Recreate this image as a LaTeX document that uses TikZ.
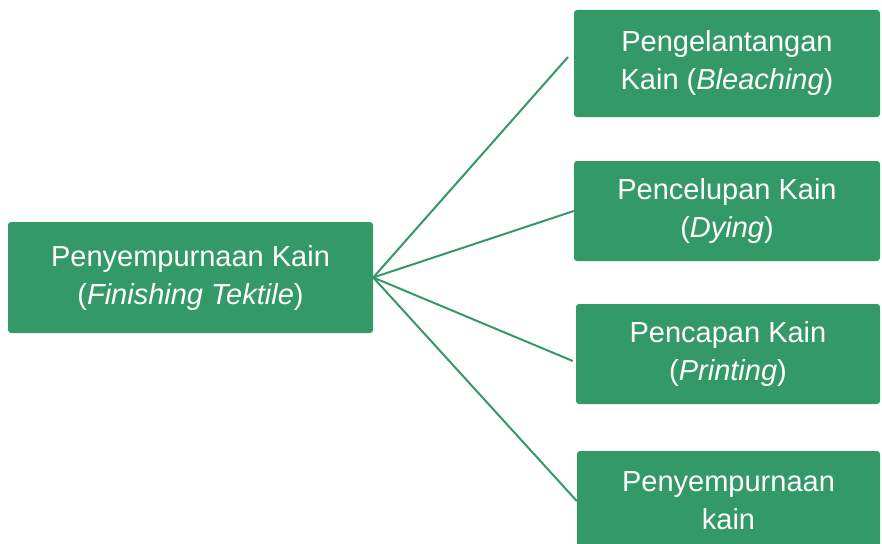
\documentclass[tikz,border=0pt]{standalone}
\usepackage{fontspec}
\setmainfont{Liberation Sans}
\usepackage{tikz}
\definecolor{hijau}{HTML}{339966}

\tikzset{
  kotak/.style={fill=hijau, text=white, rounded corners=3pt, align=center,
    inner sep=0pt, font=\fontsize{29}{38}\selectfont},
  garis/.style={draw=hijau, line width=2pt}
}

\begin{document}
\begin{tikzpicture}[x=1pt,y=-1pt]
  \useasboundingbox (0,0) rectangle (882,543);
  \clip (0,0) rectangle (882,543);
  % kotak utama
  \node[kotak, minimum width=365pt, minimum height=111pt] (kiri) at (190.5,277.5)
    {Penyempurnaan Kain\\(\textit{Finishing Tektile})};
  % cabang
  \node[kotak, minimum width=306pt, minimum height=107pt] (b1) at (727,63.5)
    {Pengelantangan\\Kain (\textit{Bleaching})};
  \node[kotak, minimum width=306pt, minimum height=100pt] (b2) at (727,211)
    {Pencelupan Kain\\(\textit{Dying})};
  \node[kotak, minimum width=304pt, minimum height=100pt] (b3) at (728,354)
    {Pencapan Kain\\(\textit{Printing})};
  \node[kotak, minimum width=303pt, minimum height=100pt] (b4) at (728.5,501)
    {Penyempurnaan\\kain};
  \coordinate (u1) at (568,57);
  % garis penghubung
  \draw[garis] (kiri.east) -- (u1);
  \draw[garis] (kiri.east) -- (b2.west);
  \draw[garis] (kiri.east) -- ([xshift=-3pt,yshift=-7pt]b3.west);
  \draw[garis] (kiri.east) -- (b4.west);
\end{tikzpicture}
\end{document}
